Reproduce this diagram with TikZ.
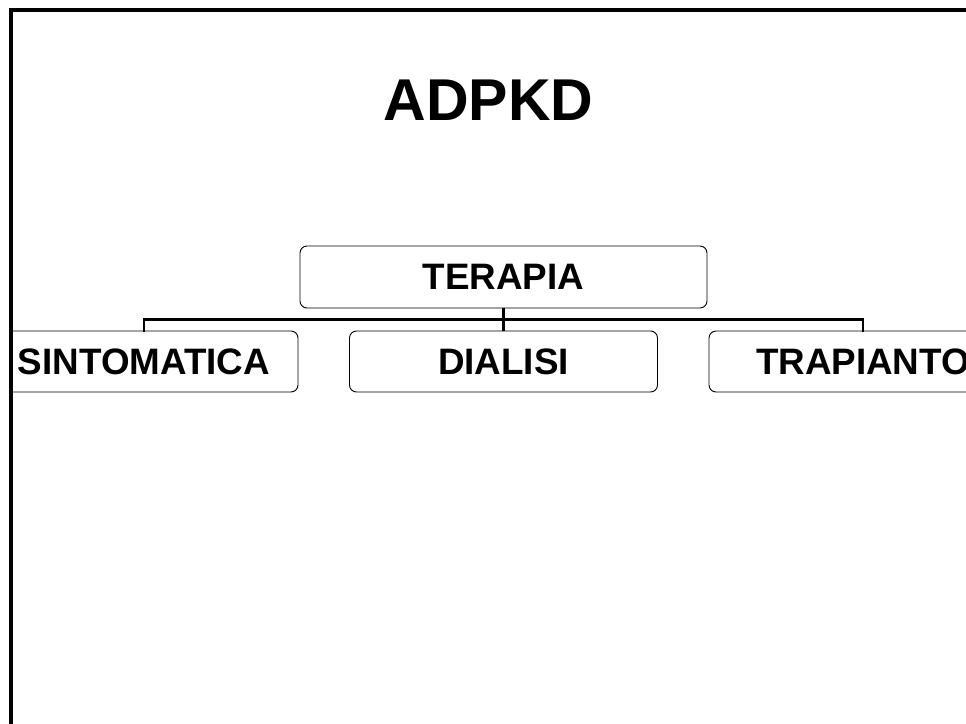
\documentclass[tikz,border=0pt]{standalone}
\usepackage{fontspec}
\setmainfont{Liberation Sans}
\begin{document}
\begin{tikzpicture}[x=1pt,y=-1pt,
  box/.style={draw=black,line width=0.9pt,rounded corners=7pt,minimum height=61pt,
    inner sep=0pt,font=\fontsize{36.8}{40}\selectfont\bfseries},
  link/.style={draw=black,line width=2.4pt}]
  \useasboundingbox (0,0) rectangle (966,723);
  \fill[white] (0,0) rectangle (966,723);
  \begin{scope}
    \clip (11,0) rectangle (966,723);
    % title
    \node[font=\fontsize{59}{64}\selectfont\bfseries,anchor=base] (title) at (488.5,120) {ADPKD};
    % chart boxes
    \node[box,minimum width=407pt,minimum height=62pt] (ter) at (503.5,277) {TERAPIA};
    \node[box,minimum width=308pt] (sin) at (144,361.5) {SINTOMATICA};
    \node[box,minimum width=308pt] (dia) at (503.5,361.5) {DIALISI};
    \node[box,minimum width=308pt] (tra) at (863,361.5) {TRAPIANTO};
    % connectors
    \coordinate (bus) at (503.5,319.5);
    \draw[link] (ter.south) -- (dia.north);
    \draw[link,line cap=rect] (sin.north) -- (sin.north |- bus) -- (tra.north |- bus) -- (tra.north);
  \end{scope}
  % slide frame
  \begin{scope}
    \clip (0,0) rectangle (966,723);
    \draw[line width=3.2pt] (11,10) rectangle (1000,760);
  \end{scope}
\end{tikzpicture}
\end{document}
